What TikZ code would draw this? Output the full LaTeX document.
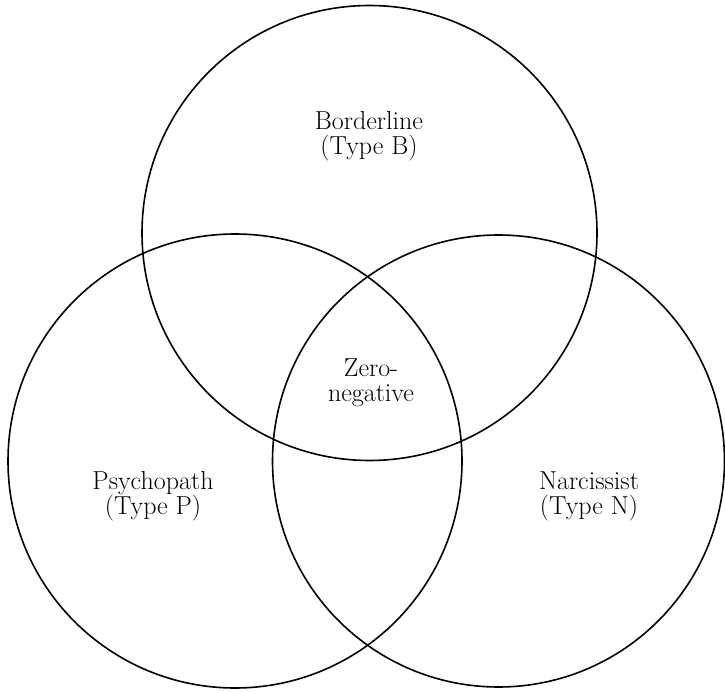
\documentclass[tikz,border=0pt]{standalone}
\begin{document}
\begin{tikzpicture}[x=1pt,y=-1pt,
  ring/.style={draw=black,line width=1.6pt,circle,inner sep=0pt},
  lbl/.style={align=center,font=\fontsize{26}{25.5}\selectfont,inner sep=0pt}]
\useasboundingbox (0,0) rectangle (725,692);
\node[ring,minimum size=455pt] (B) at (369.5,233) {};
\node[ring,minimum size=454pt] (P) at (235,461) {};
\node[ring,minimum size=452pt] (N) at (498.5,461) {};
\node[lbl] (tb) at (369,136) {Borderline\\(Type B)};
\node[lbl] (tz) at (371,383) {Zero-\\negative};
\node[lbl] (tp) at (153,496) {Psychopath\\(Type P)};
\node[lbl] (tn) at (589,496.5) {Narcissist\\(Type N)};
\end{tikzpicture}
\end{document}
